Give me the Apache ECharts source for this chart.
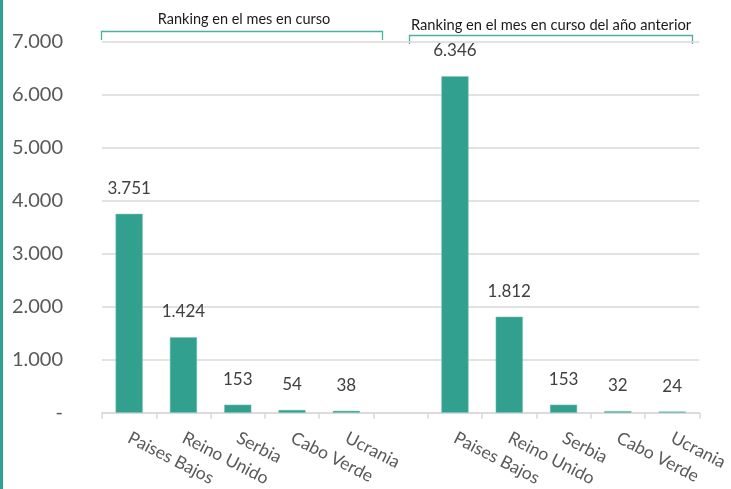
<!DOCTYPE html>
<html><head><meta charset="utf-8">
<script src="https://cdn.jsdelivr.net/npm/echarts@6/dist/echarts.min.js"></script>
<style>html,body{margin:0;padding:0;background:#fff}#c{width:731px;height:489px}</style>
</head><body><div id="c"></div>
<script>
const categories = ['Paises Bajos','Reino Unido','Serbia','Cabo Verde','Ucrania','', 'Paises Bajos','Reino Unido','Serbia','Cabo Verde','Ucrania'];
const values = [3751,1424,153,54,38,null,6346,1812,153,32,24];
const yTicks = [0,1000,2000,3000,4000,5000,6000,7000];
const groupTitles = ['Ranking en el mes en curso','Ranking en el mes en curso del año anterior'];
const FONT = 'Lato';
const fmt = v => v === 0 ? '-' : String(v).replace(/\B(?=(\d{3})+(?!\d))/g,'.');
const chart = echarts.init(document.getElementById('c'));
const teal = '#31A08F';
chart.setOption({
  animation:false,
  textStyle:{fontFamily:FONT},
  grid:{left:102,right:31,top:41.5,bottom:75},
  xAxis:{type:'category',data:categories,
    axisLine:{lineStyle:{color:'#D9D9D9',width:1.5}},
    axisTick:{show:true,length:6,lineStyle:{color:'#D9D9D9',width:1.5}},
    axisLabel:{rotate:-27,fontSize:17.5,color:'#595959',margin:24,interval:0,fontFamily:FONT}},
  yAxis:{type:'value',min:yTicks[0],max:yTicks[yTicks.length-1],interval:1000,
    axisLabel:{fontSize:20,color:'#595959',margin:39,formatter:fmt,fontFamily:FONT},
    splitLine:{lineStyle:{color:'#D9D9D9',width:1.5}},axisLine:{show:false},axisTick:{show:false}},
  series:[{type:'bar',data:values,barWidth:'50%',
    itemStyle:{color:teal,borderColor:'#7CC4B8',borderWidth:0.5},
    label:{show:true,position:'top',distance:17,fontSize:17,color:'#404040',fontFamily:FONT,formatter:p=>fmt(p.value)}}],
  graphic:[
    {type:'rect',left:0,top:0,shape:{x:1,y:0,width:3,height:489},style:{fill:teal},silent:true},
    {type:'polyline',shape:{points:[[101.5,40],[101.5,31.5],[382.5,31.5],[382.5,40]]},style:{stroke:'#4FAF9F',lineWidth:1.3,fill:null}},
    {type:'text',style:{text:groupTitles[0],x:244,y:19,align:'center',verticalAlign:'middle',fontSize:14.5,fill:'#1a1a1a',fontFamily:FONT}},
    {type:'polyline',shape:{points:[[409.5,44],[409.5,35.5],[692.5,35.5],[692.5,44]]},style:{stroke:'#4FAF9F',lineWidth:1.3,fill:null}},
    {type:'text',style:{text:groupTitles[1],x:551,y:25,align:'center',verticalAlign:'middle',fontSize:14.7,fill:'#1a1a1a',fontFamily:FONT}}
  ]
});
</script></body></html>
